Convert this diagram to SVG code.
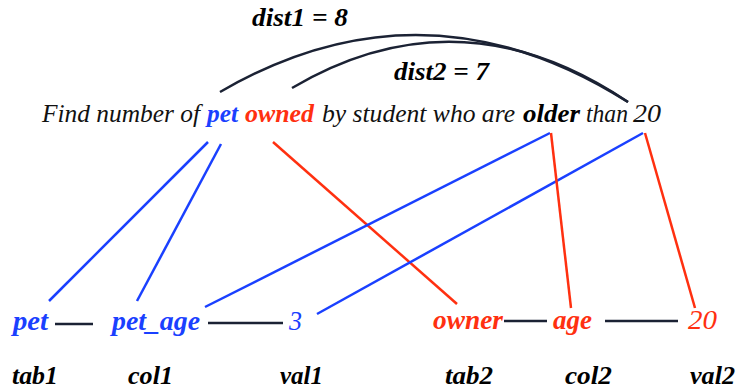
<svg xmlns="http://www.w3.org/2000/svg" width="737" height="388" viewBox="0 0 737 388">
<style>
  .s { font-size: 25px; fill: #111; }
  .b { font-weight: bold; }
  .blue { fill: #1a40ff; }
  .red { fill: #ff3010; }
  .k { fill: #000; }
  .n { font-size: 27px; }
  .lab { font-size: 25px; font-weight: bold; fill: #000; }
  .bl { stroke: #1a40ff; stroke-width: 2.5; fill: none; }
  .rl { stroke: #ff3010; stroke-width: 2.5; fill: none; }
  .dl { stroke: #1b2234; stroke-width: 2.5; fill: none; }
</style>
<rect width="737" height="388" fill="#fff"/>
<g font-family="Liberation Serif, DejaVu Serif, serif" font-style="italic">
<g id="sentence">
  <text class="s" x="42" y="122" textLength="158" lengthAdjust="spacingAndGlyphs">Find number of</text>
  <text class="s b blue" x="207" y="122" textLength="31" lengthAdjust="spacingAndGlyphs">pet</text>
  <text class="s b red" x="245" y="122" textLength="69" lengthAdjust="spacingAndGlyphs">owned</text>
  <text class="s" x="322" y="122" textLength="193" lengthAdjust="spacingAndGlyphs">by student who are</text>
  <text class="s b k" x="523" y="122" textLength="57" lengthAdjust="spacingAndGlyphs">older</text>
  <text class="s" x="586" y="122" textLength="42" lengthAdjust="spacingAndGlyphs">than</text>
  <text class="s" x="633" y="122" textLength="28" lengthAdjust="spacingAndGlyphs">20</text>
</g>

<g id="dist1">
  <text class="lab" x="252" y="26" textLength="96" lengthAdjust="spacingAndGlyphs">dist1 = 8</text>
</g>
<g id="dist2">
  <text class="lab" x="394" y="80" textLength="95" lengthAdjust="spacingAndGlyphs">dist2 = 7</text>
</g>

<g id="tab1">
  <text class="n b blue" x="13" y="330" textLength="35" lengthAdjust="spacingAndGlyphs">pet</text>
  <text class="lab" x="12" y="384" textLength="46" lengthAdjust="spacingAndGlyphs">tab1</text>
</g>
<g id="col1">
  <text class="n b blue" x="112" y="330" textLength="88" lengthAdjust="spacingAndGlyphs">pet_age</text>
  <text class="lab" x="128" y="384" textLength="45" lengthAdjust="spacingAndGlyphs">col1</text>
</g>
<g id="val1">
  <text class="n blue" x="289" y="330" textLength="13" lengthAdjust="spacingAndGlyphs">3</text>
  <text class="lab" x="280" y="384" textLength="43" lengthAdjust="spacingAndGlyphs">val1</text>
</g>
<g id="tab2">
  <text class="n b red" x="433" y="329" textLength="70" lengthAdjust="spacingAndGlyphs">owner</text>
  <text class="lab" x="445" y="384" textLength="48" lengthAdjust="spacingAndGlyphs">tab2</text>
</g>
<g id="col2">
  <text class="n b red" x="553" y="329" textLength="39" lengthAdjust="spacingAndGlyphs">age</text>
  <text class="lab" x="565" y="384" textLength="47" lengthAdjust="spacingAndGlyphs">col2</text>
</g>
<g id="val2">
  <text class="n red" x="688" y="329" textLength="29" lengthAdjust="spacingAndGlyphs">20</text>
  <text class="lab" x="690" y="384" textLength="45" lengthAdjust="spacingAndGlyphs">val2</text>
</g>
</g>

<g id="connectors">
  <path class="dl" d="M220,92 Q424,-27 628,102"/>
  <path class="dl" d="M292,88 Q460,-11 628,102"/>
  <line class="bl" x1="208" y1="142" x2="49" y2="301"/>
  <line class="bl" x1="221" y1="144" x2="137" y2="301"/>
  <line class="rl" x1="273" y1="142" x2="457" y2="304"/>
  <line class="bl" x1="550" y1="133" x2="205" y2="307"/>
  <line class="bl" x1="643" y1="133" x2="317" y2="314"/>
  <line class="rl" x1="551" y1="133" x2="571" y2="308"/>
  <line class="rl" x1="645" y1="133" x2="695" y2="308"/>
  <line class="dl" x1="55" y1="324" x2="93" y2="324"/>
  <line class="dl" x1="208" y1="323" x2="283" y2="323"/>
  <line class="dl" x1="504" y1="321" x2="547" y2="321"/>
  <line class="dl" x1="605" y1="321" x2="678" y2="321"/>
</g>
</svg>
